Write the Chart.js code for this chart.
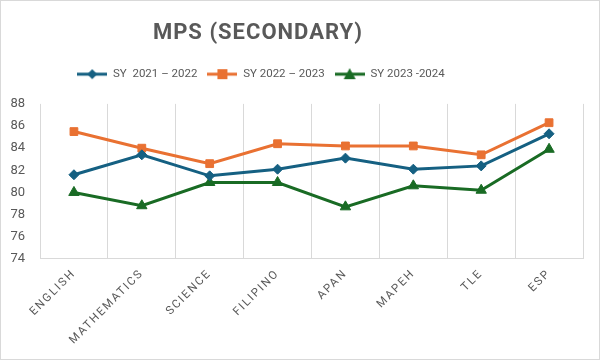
<!DOCTYPE html>
<html>
<head>
<meta charset="utf-8">
<script src="https://cdn.jsdelivr.net/npm/chart.js@4"></script>
<style>
  html, body { margin: 0; padding: 0; background: #fff; }
  #wrap { width: 598px; height: 358px; border: 1px solid #d9d9d9; }
</style>
</head>
<body>
<div id="wrap"><canvas id="myChart" width="598" height="358"></canvas></div>
<script>
let subjects = ["ENGLISH", "MATHEMATICS", "SCIENCE", "FILIPINO", "APAN", "MAPEH", "TLE", "ESP"];
let seriesNames = ["SY  2021 \u2013 2022", "SY 2022 \u2013 2023", "SY 2023 -2024"];
let sy2021 = [81.6, 83.4, 81.5, 82.1, 83.1, 82.1, 82.4, 85.3];
let sy2022 = [85.5, 84.0, 82.6, 84.4, 84.2, 84.2, 83.4, 86.3];
let sy2023 = [80.0, 78.8, 80.9, 80.9, 78.7, 80.6, 80.2, 83.9];

let lineColors = ["#156082", "#E97132", "#196B24"];
let markers = ["rectRot", "rect", "triangle"];
let markerSize = [5, 5.5, 6];

// little line+marker pictures for the legend
function legendIcon(color, shape) {
    let c = document.createElement("canvas");
    c.width = 30; c.height = 14;
    let g = c.getContext("2d");
    g.strokeStyle = color; g.fillStyle = color; g.lineWidth = 3;
    g.beginPath(); g.moveTo(0, 7); g.lineTo(30, 7); g.stroke();
    g.beginPath();
    if (shape == "rectRot") {
        g.moveTo(15, 2); g.lineTo(20, 7); g.lineTo(15, 12); g.lineTo(10, 7);
    } else if (shape == "rect") {
        g.rect(10, 2, 10, 10);
    } else {
        g.moveTo(15, 1); g.lineTo(21, 12); g.lineTo(9, 12);
    }
    g.closePath(); g.fill();
    return c;
}

// letter spacing per box (canvas ctx.letterSpacing)
function withSpacing(obj, methods, sp) {
    methods.forEach(m => {
        let f = obj[m];
        obj[m] = function (...a) {
            let old = this.ctx.letterSpacing;
            this.ctx.letterSpacing = sp;
            try { return f.apply(this, a); } finally { this.ctx.letterSpacing = old; }
        };
    });
}

// title and legend sit a bit left of centre in the original
function shiftLeft(box, dx) {
    let draw = box.draw;
    box.draw = function (...a) {
        this.ctx.save();
        this.ctx.translate(dx, 0);
        draw.apply(this, a);
        this.ctx.restore();
    };
}

let spacing = {
    id: "spacing",
    afterInit(chart) {
        withSpacing(chart.titleBlock, ["fit", "draw"], "1px");
        withSpacing(chart.legend, ["fit", "draw"], "0px");
        let fit = chart.legend.fit;
        chart.legend.fit = function () {
            fit.apply(this);
            this.height += 14;
        };
        shiftLeft(chart.titleBlock, -38);
        shiftLeft(chart.legend, -35);
    },
    beforeLayout(chart) {
        let x = chart.scales.x;
        if (x && !x._spaced) {
            withSpacing(x, ["update", "draw"], "1.8px");
            x._spaced = true;
        }
    }
};

let allData = [sy2021, sy2022, sy2023];

new Chart("myChart", {
    type: "line",
    plugins: [spacing],
    data: {
        labels: subjects,
        datasets: allData.map((d, i) => ({
            label: seriesNames[i],
            data: d,
            borderColor: lineColors[i],
            backgroundColor: lineColors[i],
            borderWidth: 3,
            pointStyle: markers[i],
            pointRadius: markerSize[i],
            pointBorderWidth: 1,
            tension: 0
        }))
    },
    options: {
        responsive: false,
        animation: false,
        layout: { padding: { left: 8, right: 16, top: 10, bottom: 4 } },
        plugins: {
            title: {
                display: true,
                text: "MPS (SECONDARY)",
                color: "#595959",
                font: { family: "Roboto", size: 22, weight: "bold" },
                padding: { top: 9, bottom: 12 }
            },
            legend: {
                labels: {
                    color: "#595959",
                    font: { family: "Roboto", size: 11.5 },
                    usePointStyle: true,
                    pointStyleWidth: 30,
                    boxHeight: 12,
                    padding: 10,
                    generateLabels: chart => chart.data.datasets.map((ds, i) => ({
                        text: ds.label,
                        pointStyle: legendIcon(lineColors[i], markers[i]),
                        fillStyle: lineColors[i],
                        strokeStyle: lineColors[i],
                        lineWidth: 0,
                        fontColor: "#595959",
                        datasetIndex: i
                    }))
                }
            }
        },
        scales: {
            x: {
                offset: true,
                afterFit: s => { s.paddingLeft = 0; },
                grid: { display: true, color: "#d9d9d9", offset: true, drawTicks: false },
                border: { color: "#d9d9d9" },
                ticks: {
                    color: "#595959",
                    font: { family: "Roboto", size: 11.5 },
                    minRotation: 45,
                    maxRotation: 45,
                    padding: 8
                }
            },
            y: {
                min: 74,
                max: 88,
                afterFit: s => { s.width = 31; },
                grid: { display: false, drawTicks: false },
                border: { display: false },
                ticks: {
                    stepSize: 2,
                    color: "#595959",
                    font: { family: "Roboto", size: 13 },
                    padding: 15
                }
            }
        }
    }
});
</script>
</body>
</html>
